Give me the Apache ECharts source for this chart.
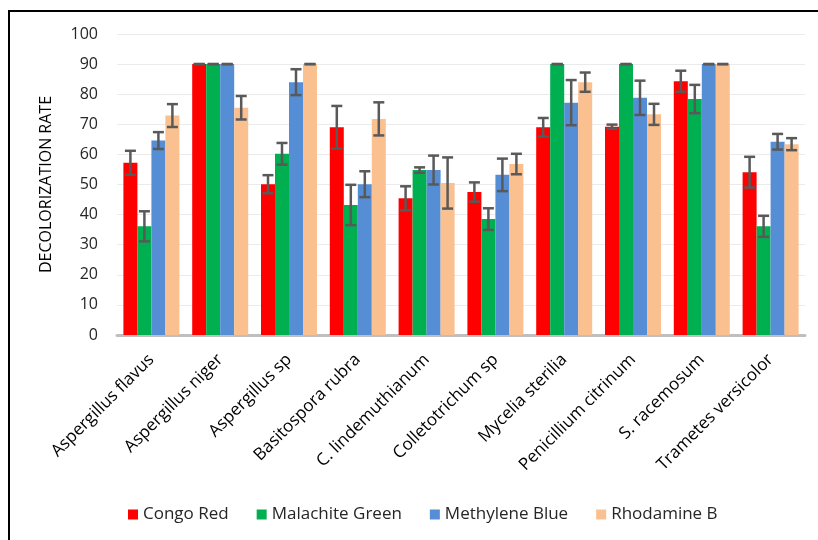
<!DOCTYPE html>
<html>
<head>
<meta charset="utf-8">
<script src="https://cdn.jsdelivr.net/npm/echarts@6/dist/echarts.min.js"></script>
<style>html,body{margin:0;padding:0;background:#fff}#c{width:818px;height:540px}</style>
</head>
<body>
<div id="c"></div>
<script>
var categories = ['Aspergillus flavus','Aspergillus niger','Aspergillus sp','Basitospora rubra','C. lindemuthianum','Colletotrichum sp','Mycelia sterilia','Penicillium citrinum','S. racemosum','Trametes versicolor'];
var seriesNames = ['Congo Red','Malachite Green','Methylene Blue','Rhodamine B'];
var congoRed       = [57.2, 90, 50.1, 69.0, 45.4, 47.5, 69.0, 69.2, 84.3, 54.1];
var congoRedErr    = [4.0, 0, 3.0, 7.1, 4.0, 3.2, 3.1, 0.7, 3.5, 5.1];
var malachiteGreen = [36.1, 90, 60.2, 43.2, 54.8, 38.5, 90, 90, 78.4, 36.1];
var malachiteErr   = [5.0, 0, 3.6, 6.7, 0.9, 3.6, 0, 0, 4.7, 3.5];
var methyleneBlue  = [64.6, 90, 84.0, 50.1, 54.8, 53.2, 77.2, 78.8, 90, 64.2];
var methyleneErr   = [2.8, 0, 4.3, 4.3, 4.8, 5.4, 7.5, 5.7, 0, 2.6];
var rhodamineB     = [72.9, 75.5, 90, 71.8, 50.5, 56.8, 84.0, 73.3, 90, 63.4];
var rhodamineErr   = [3.8, 3.9, 0, 5.5, 8.5, 3.4, 3.2, 3.5, 0, 2.0];
var yTicks = [0,10,20,30,40,50,60,70,80,90,100];

var values = [congoRed, malachiteGreen, methyleneBlue, rhodamineB];
var errors = [congoRedErr, malachiteErr, methyleneErr, rhodamineErr];
var colors = ['#FF0000','#00B050','#558ED5','#FAC090'];
var BAR_W = 14;
var FONT = 'Open Sans';

var chart = echarts.init(document.getElementById('c'));
var series = [];
values.forEach(function(vals, s){
  series.push({
    name: seriesNames[s], type:'bar', data: vals, barWidth: BAR_W, barGap: '0%', barCategoryGap: '18.6%',
    itemStyle:{color: colors[s]}, emphasis:{disabled:true}
  });
});
values.forEach(function(vals, s){
  series.push({
    type:'custom', name: seriesNames[s] + ' err', z: 10, silent:true,
    data: vals.map(function(v,i){ return [i, v, errors[s][i]]; }),
    encode:{x:0, y:1},
    renderItem: function(params, api){
      var i = api.value(0), v = api.value(1), e = api.value(2);
      var c = api.coord([i, v]);
      var x = c[0] + (s - 1.5) * BAR_W;
      var top = api.coord([i, v + e])[1];
      var bot = api.coord([i, v - e])[1];
      var hw = 5.5;
      var st = {stroke:'#595959', lineWidth:2.5};
      return {type:'group', children:[
        {type:'line', shape:{x1:x, y1:top, x2:x, y2:bot}, style:st},
        {type:'line', shape:{x1:x-hw, y1:top, x2:x+hw, y2:top}, style:st},
        {type:'line', shape:{x1:x-hw, y1:bot, x2:x+hw, y2:bot}, style:st}
      ]};
    }
  });
});

chart.setOption({
  animation:false,
  textStyle:{fontFamily:FONT},
  grid:{left:117, right:13, top:34, bottom:205, containLabel:false},
  legend:{
    data: seriesNames, bottom: 12, left: 123, itemWidth:10, itemHeight:10, itemGap:28,
    icon:'rect', textStyle:{fontSize:17, color:'#262626', fontFamily:FONT}
  },
  xAxis:{
    type:'category', data: categories,
    axisLine:{lineStyle:{color:'#BFBFBF', width:3}},
    axisTick:{show:false},
    axisLabel:{rotate:45, interval:0, fontSize:17, color:'#000', margin:22, fontFamily:FONT}
  },
  yAxis:{
    type:'value', min:0, max:100, interval:10,
    name:'DECOLORIZATION RATE', nameLocation:'middle', nameGap:63, nameRotate:90,
    nameTextStyle:{fontSize:16, color:'#000', fontFamily:FONT},
    axisLine:{show:false}, axisTick:{show:false},
    axisLabel:{fontSize:16, color:'#262626', margin:19, fontFamily:FONT},
    splitLine:{lineStyle:{color:'#EBEBEB', width:1}}
  },
  graphic:[
    {type:'polyline', shape:{points:[[9,540],[9,11],[818,11]]}, style:{stroke:'#000', lineWidth:2, fill:null}}
  ],
  series: series
});
</script>
</body>
</html>
